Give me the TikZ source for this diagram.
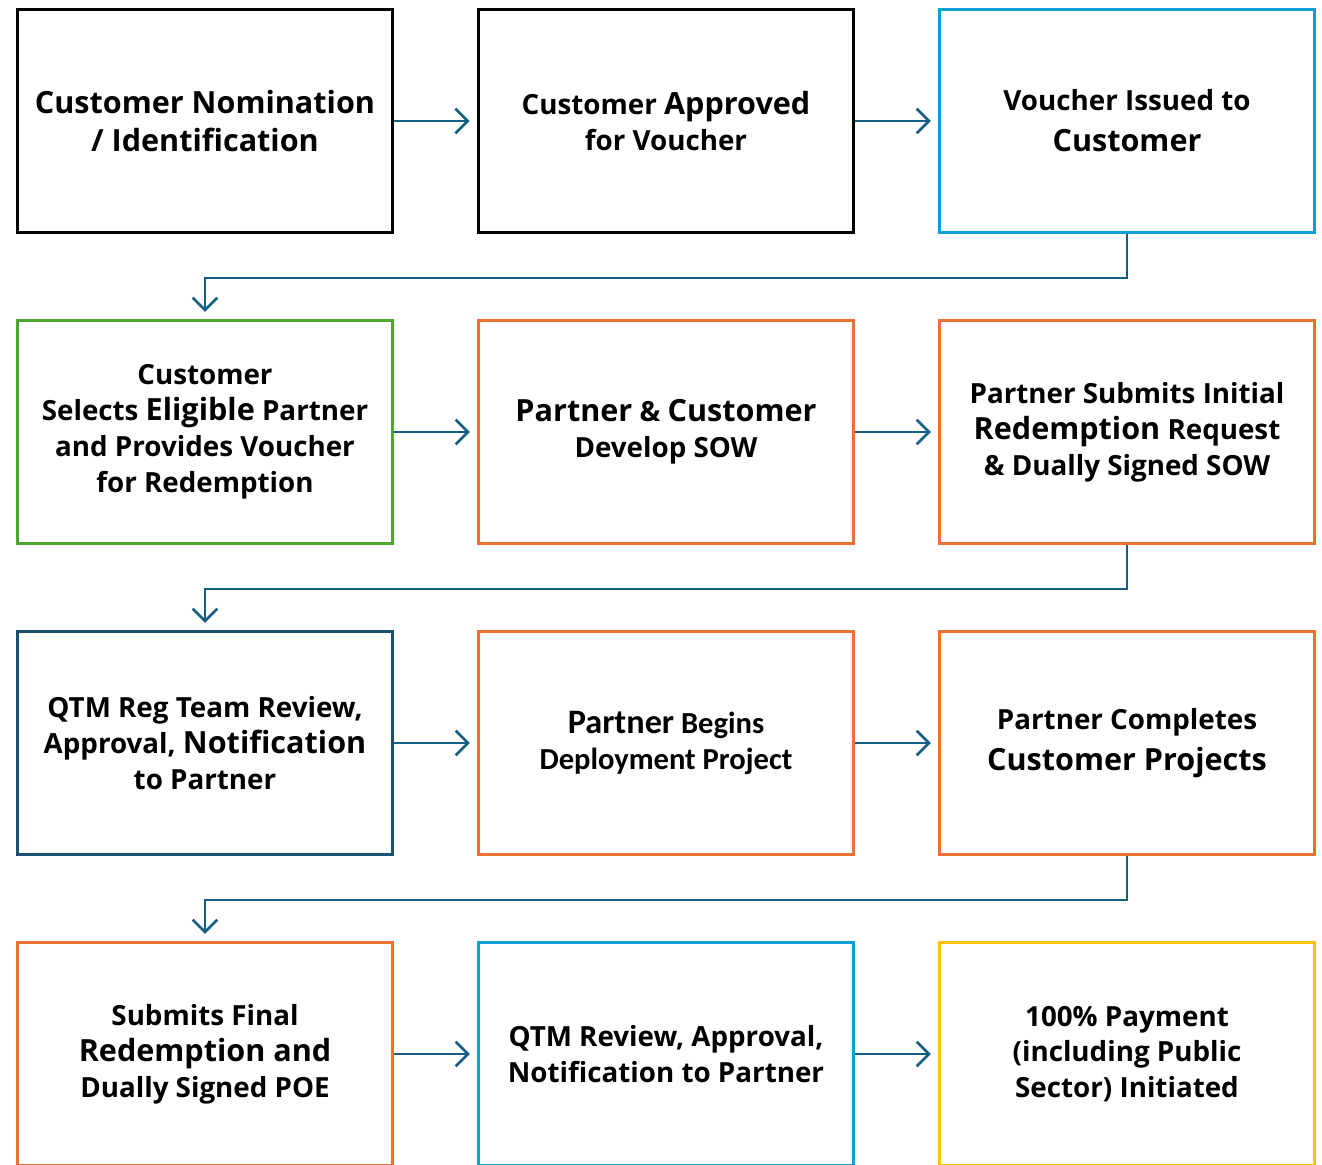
\documentclass[tikz,border=0pt]{standalone}
\usepackage{fontspec}
\setmainfont{Open Sans}
\newfontfamily\calfont{Carlito}[BoldFont={Carlito Bold}]
\usetikzlibrary{arrows.meta}

\definecolor{flowblue}{HTML}{156082}
\definecolor{vblue}{HTML}{0F9ED5}
\definecolor{sgreen}{HTML}{4EA72E}
\definecolor{porange}{HTML}{E97132}
\definecolor{qblue}{HTML}{1B4F72}
\definecolor{pyellow}{HTML}{FFC000}

\newcommand{\nrm}{\fontsize{15.8}{20.4}\selectfont}
\newcommand{\lrg}[1]{{\fontsize{17.4}{20.4}\selectfont #1}}

\tikzset{
    stepbox/.style={draw, rectangle, line width=1.8pt, minimum width=7.5cm, minimum height=4.46cm,
        align=center, font=\bfseries\nrm, inner sep=2pt},
    flow/.style={draw=flowblue, line width=1.5pt, -{Straight Barb[length=7pt, width=14pt, line width=1.5pt]},
        shorten >=4pt}
}

\begin{document}
\begin{tikzpicture}[x=0.02cm, y=-0.02cm]

        \useasboundingbox (0,0) rectangle (1322,1164);
        \clip (0,0) rectangle (1322,1164);

        % row 1
        \node[name=a1, stepbox, line width=2.2pt] at (205,121) {\lrg{Customer Nomination}\\[1pt]\lrg{/ Identification}};
        \node[name=a2, stepbox, line width=2.2pt] at (666,121) {Customer \lrg{Approved}\\for Voucher};
        \node[name=a3, stepbox, draw=vblue] at (1127,121) {Voucher Issued to\\[3pt]\lrg{Customer}};

        % row 2
        \node[name=b1, stepbox, draw=sgreen] at (205,432) {Customer\\Selects \lrg{Eligible} Partner\\and Provides Voucher\\for Redemption};
        \node[name=b2, stepbox, draw=porange] at (666,432) {\lrg{Partner} \& \lrg{Customer}\\Develop SOW};
        \node[name=b3, stepbox, draw=porange] at (1127,432) {Partner Submits Initial\\\lrg{Redemption} Request\\\& Dually Signed SOW};

        % row 3
        \node[name=c1, stepbox, draw=qblue] at (205,743) {QTM Reg Team Review,\\Approval, \lrg{Notification}\\to Partner};
        \node[name=c2, stepbox, draw=porange, font=\calfont\bfseries\fontsize{17.4}{20.4}\selectfont] at (666,743)
            {{\fontsize{19.5}{20.4}\selectfont Partner} Begins\\Deployment Project};
        \node[name=c3, stepbox, draw=porange] at (1127,743) {Partner Completes\\[3pt]\lrg{Customer Projects}};

        % row 4
        \node[name=d1, stepbox, draw=porange] at (205,1054) {Submits Final\\\lrg{Redemption and}\\Dually Signed POE};
        \node[name=d2, stepbox, draw=vblue] at (666,1054) {QTM Review, Approval,\\Notification to Partner};
        \node[name=d3, stepbox, draw=pyellow] at (1127,1054) {100\% Payment\\(including Public\\Sector) Initiated};

        \foreach \r in {a,b,c,d}
            {
                \draw[flow] (\r1) -- (\r2);
                \draw[flow] (\r2) -- (\r3);
            }

        \draw[flow] (a3.south) -- ++(0,44) -| (b1.north);
        \draw[flow] (b3.south) -- ++(0,44) -| (c1.north);
        \draw[flow] (c3.south) -- ++(0,44) -| (d1.north);
    \end{tikzpicture}
\end{document}
